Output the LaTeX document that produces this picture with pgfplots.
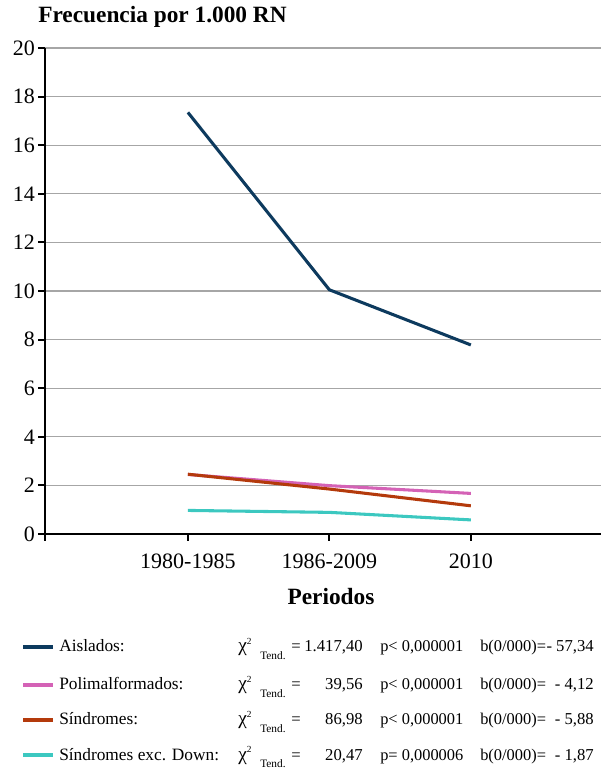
\documentclass[border=0pt]{standalone}
\usepackage{fontspec}
\setmainfont{Liberation Serif}
\usepackage{pgfplots}
\pgfplotsset{compat=1.18}
\definecolor{cAis}{HTML}{0D3A5E}
\definecolor{cPol}{HTML}{D462B6}
\definecolor{cSin}{HTML}{B43A0C}
\definecolor{cDow}{HTML}{3CC8C0}
\definecolor{cGrid}{HTML}{A6A6A6}
\begin{document}
\begin{tikzpicture}[x=0.75pt,y=0.75pt]
\useasboundingbox (0,0) rectangle (601,772);
\begin{axis}[
  at={(33.75pt,178.5pt)}, anchor=south west,
  scale only axis, width=417pt, height=364.5pt,
  xmin=-1.01, xmax=2.92, ymin=0, ymax=20,
  axis x line=bottom, axis y line=left,
  axis line style={-, line width=1.4pt, black},
  ytick={0,2,...,20},
  xtick={0,1,2}, xticklabels={1980-1985,1986-2009,2010},
  extra x ticks={-1.01}, extra x tick labels={},
  extra x tick style={grid=none},
  ymajorgrids, grid style={cGrid, line width=1pt},
  tick align=outside, major tick length=5pt,
  tick style={black, line width=1.4pt},
  /pgf/number format/assume math mode=true,
  tick label style={font=\fontsize{16.5}{16.5}\selectfont},
  yticklabel style={xshift=1pt},
  xticklabel style={yshift=-6pt},
  clip=false,
]
\addplot[cAis, line width=2.3pt] coordinates {(0,17.35) (1,10.05) (2,7.78)};
\addplot[cPol, line width=2.3pt] coordinates {(0,2.45) (1,1.99) (2,1.67)};
\addplot[cSin, line width=2.3pt] coordinates {(0,2.46) (1,1.85) (2,1.16)};
\addplot[cDow, line width=2.3pt] coordinates {(0,0.97) (1,0.89) (2,0.58)};
\end{axis}
% title and axis label
\node[anchor=base west, font=\fontsize{17.5}{17.5}\selectfont\bfseries, inner sep=0pt] at (38,749) {Frecuencia por 1.000 RN};
\node[font=\fontsize{17.5}{17.5}\selectfont\bfseries, inner sep=0pt] at (331,175) {Periodos};
% legend
\foreach \yy/\col/\name/\chi/\p/\b in {
  125/cAis/Aislados:/1.417{,}40/p< 0{,}000001/- 57{,}34,
  87/cPol/Polimalformados:/39{,}56/p< 0{,}000001/- 4{,}12,
  52/cSin/Síndromes:/86{,}98/p< 0{,}000001/- 5{,}88,
  17/cDow/Síndromes exc. Down:/20{,}47/p= 0{,}000006/- 1{,}87}{
  \draw[\col, line width=2.6pt] (23,\yy) -- (53,\yy);
  \node[anchor=base west, inner sep=0pt, font=\fontsize{13}{13}\selectfont] at (59,\yy-5) {\name};
  \node[anchor=base west, inner sep=0pt, font=\fontsize{14.5}{14.5}\selectfont] at (238,\yy-5) {χ\raisebox{0.4em}{\fontsize{7}{7}\selectfont 2}};
  \node[anchor=base west, inner sep=0pt, font=\fontsize{8.5}{8.5}\selectfont] at (260,\yy-13) {Tend.};
  \node[anchor=base, inner sep=0pt, font=\fontsize{12.5}{12.5}\selectfont] at (296,\yy-5) {=};
  \node[anchor=base east, inner sep=0pt, font=\fontsize{12.5}{12.5}\selectfont] at (363,\yy-5) {\chi};
  \node[anchor=base west, inner sep=0pt, font=\fontsize{12.3}{12.3}\selectfont] at (380,\yy-5) {\p};
  \node[anchor=base west, inner sep=0pt, font=\fontsize{12.3}{12.3}\selectfont] at (480,\yy-5) {b(0/000)=};
  \node[anchor=base east, inner sep=0pt, font=\fontsize{12.5}{12.5}\selectfont] at (594,\yy-5) {\b};
}
\end{tikzpicture}
\end{document}
